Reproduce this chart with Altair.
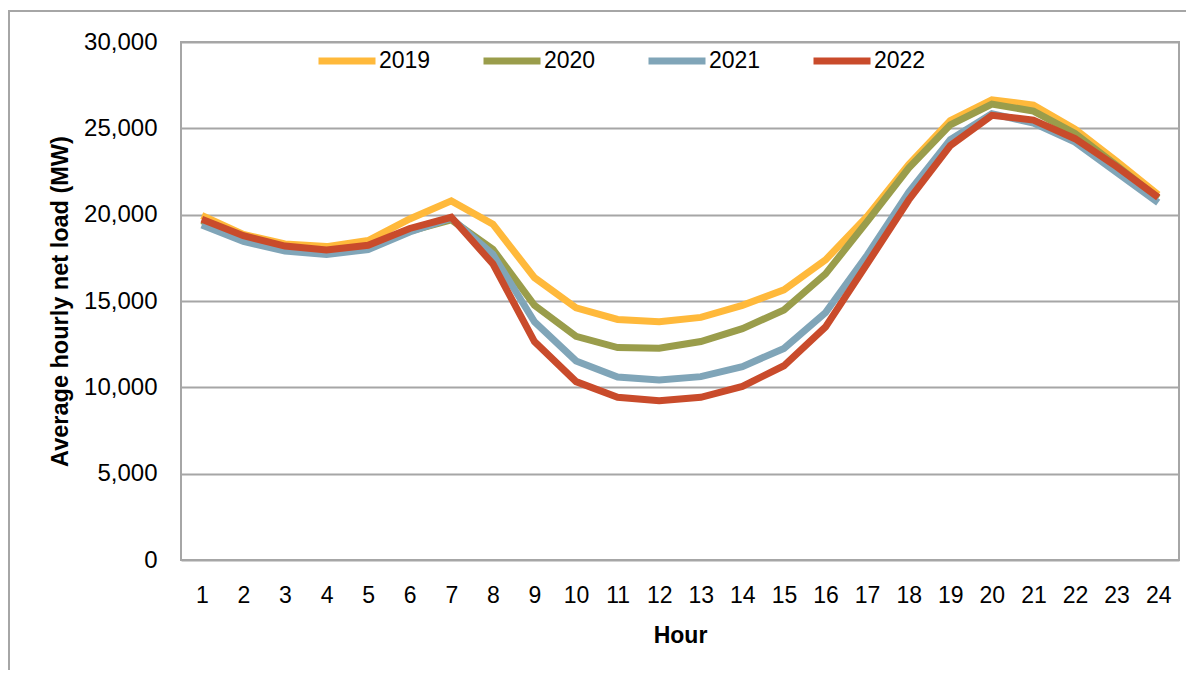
import altair as alt
import pandas as pd

hours = list(range(1, 25))
years = ["2019", "2020", "2021", "2022"]

load_2019 = [19950, 18850, 18300, 18150, 18500, 19750, 20800, 19450, 16350, 14600, 13930, 13800,
             14050, 14750, 15650, 17380, 19900, 22900, 25450, 26650, 26350, 24950, 23100, 21150]
load_2020 = [19650, 18700, 18100, 17850, 18150, 19050, 19700, 18000, 14750, 12950, 12300, 12260,
             12650, 13400, 14480, 16570, 19600, 22700, 25200, 26400, 26000, 24700, 22850, 20950]
load_2021 = [19400, 18450, 17900, 17700, 17980, 19000, 19800, 17700, 13800, 11530, 10600, 10420,
             10620, 11200, 12250, 14330, 17650, 21300, 24350, 25850, 25300, 24200, 22450, 20700]
load_2022 = [19730, 18780, 18180, 17950, 18230, 19200, 19850, 17150, 12650, 10330, 9420, 9220,
             9420, 10050, 11250, 13500, 17150, 20850, 24000, 25750, 25480, 24400, 22780, 21000]

colors = ["#FFB93B", "#9A9D4B", "#80A5B8", "#C94B2B"]
y_ticks = [0, 5000, 10000, 15000, 20000, 25000, 30000]

rows = []
for year, vals in zip(years, [load_2019, load_2020, load_2021, load_2022]):
    for h, v in zip(hours, vals):
        rows.append({"Hour": h, "Year": year, "Load": v})
df = pd.DataFrame(rows)

FONT = "Liberation Sans"
GRID = "#A6A6A6"

lines = alt.Chart(df).mark_line(strokeWidth=7).encode(
    x=alt.X("Hour:O", axis=alt.Axis(
        title="Hour", labelAngle=0, ticks=False, domain=False,
        labelFontSize=23, labelPadding=24, titleFontSize=23,
        titleFontWeight="bold", titlePadding=17)),
    y=alt.Y("Load:Q", scale=alt.Scale(domain=[0, 30000], nice=False),
            axis=alt.Axis(
                title="Average hourly net load (MW)", values=y_ticks, format=",.0f",
                ticks=False, domain=False, grid=True, gridColor=GRID, gridWidth=2,
                labelFontSize=24, labelPadding=24, titleFontSize=23.5,
                titleFontWeight="bold", titlePadding=11)),
    color=alt.Color("Year:N", scale=alt.Scale(domain=years, range=colors),
                    legend=alt.Legend(
                        title=None, orient="none", legendX=134, legendY=-13,
                        direction="horizontal", columns=4, symbolType="stroke",
                        symbolSize=3249, symbolStrokeWidth=7, labelFontSize=23,
                        labelOffset=0, columnPadding=38, padding=0,
                        labelLimit=200)),
)

frame = alt.Chart(alt.Data(values=[{"a": 1}])).mark_rect(
    fill="transparent", stroke=GRID, strokeWidth=2
).encode(
    x=alt.value(-172), x2=alt.value(1030), y=alt.value(-31), y2=alt.value(700)
)

chart = alt.layer(frame, lines).properties(
    width=998, height=518,
    autosize=alt.AutoSizeParams(type="none"),
    padding={"left": 173, "top": 34, "right": 7, "bottom": 110},
).configure_view(
    stroke=GRID, strokeWidth=2
).configure_axis(
    labelFont=FONT, titleFont=FONT, labelColor="black", titleColor="black"
).configure_legend(
    labelFont=FONT, labelColor="black"
)

chart.save("out.html", embed_options={"renderer": "svg", "actions": False})
